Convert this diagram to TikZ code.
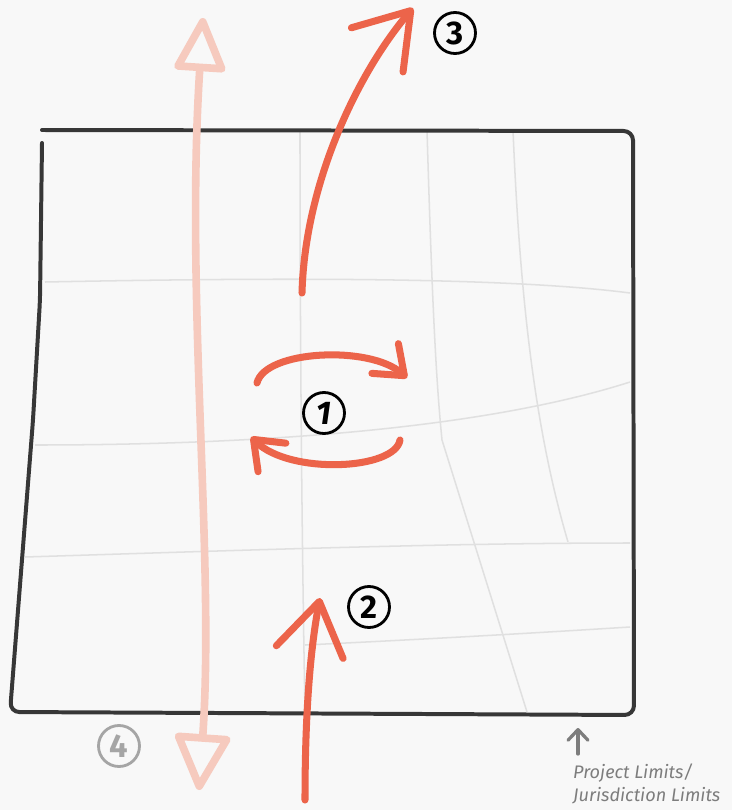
\documentclass[tikz,border=0pt]{standalone}
\usepackage{fontspec}
\setsansfont{Fira Sans}
\usepackage{tikz}
\usetikzlibrary{arrows.meta}

\definecolor{arrowred}{RGB}{236,100,74}
\definecolor{arrowpink}{RGB}{246,202,190}
\definecolor{framegray}{RGB}{55,55,55}
\definecolor{gridgray}{RGB}{224,224,224}
\definecolor{paper}{RGB}{248,248,248}
\definecolor{notegray}{RGB}{125,125,125}
\definecolor{numgray}{RGB}{165,165,165}

\begin{document}
\begin{tikzpicture}[
  x=0.03cm, y=-0.03cm,
  font=\sffamily,
  grid/.style={draw=gridgray, line width=1.3pt},
  frame/.style={draw=framegray, line width=3.4pt, line cap=round, line join=round, rounded corners=8pt},
  redarr/.style={draw=arrowred, line width=6pt, line cap=round,
    -{Straight Barb[round, length=44pt, width=58pt]}},
  turnarr/.style={draw=arrowred, line width=6pt, line cap=round,
    -{Straight Barb[round, length=22pt, width=34pt]}},
  pinkarr/.style={draw=arrowpink, line width=6.5pt, line cap=round,
    {Triangle[open, round, length=50pt, width=46pt]}-{Triangle[open, round, length=52pt, width=50pt]}},
  notearr/.style={draw=notegray, line width=2.8pt, line cap=round,
    -{Straight Barb[round, length=9pt, width=17pt]}},
  num/.style={circle, draw, line width=2.4pt, minimum size=35pt, inner sep=0pt,
    font=\sffamily\bfseries\fontsize{28}{28}\selectfont},
  note/.style={text=notegray, align=left, inner sep=0pt,
    font=\sffamily\itshape\fontsize{15.5}{19.5}\selectfont}
]
% paper
\fill[paper] (0,0) rectangle (732,810);
\useasboundingbox (0,0) rectangle (732,810);

% street grid
\draw[grid] (45,282) .. controls (250,278) and (500,276) .. (630,293);
\draw[grid] (35,445) .. controls (250,445) and (480,430) .. (630,382);
\draw[grid] (25,557) .. controls (250,550) and (450,543) .. (630,543);
\draw[grid] (305,645) .. controls (450,638) and (550,632) .. (630,627);
\draw[grid] (300,130) .. controls (300,400) and (303,600) .. (305,712);
\draw[grid] (427,130) .. controls (432,300) and (436,380) .. (442,440) -- (527,712);
\draw[grid] (513,130) .. controls (520,300) and (535,430) .. (568,542);

% project limits
\draw[frame] (42,130) -- (633,131) -- (634,715) -- (10,712)
  -- (33,420) -- (40,300) -- (42,143);

% through traffic (4)
\coordinate (p4t) at (203,18);
\coordinate (p4b) at (199,790);
\draw[pinkarr] (p4t) .. controls (185,300) and (215,560) .. (p4b);

% internal trips (1)
\coordinate (r1s) at (257,383);
\coordinate (r1t) at (407,378);
\coordinate (r2s) at (400,440);
\coordinate (r2t) at (251,437);
\draw[turnarr] (r1s) .. controls (265,350) and (370,345) .. (r1t);
\draw[turnarr] (r2s) .. controls (395,470) and (290,475) .. (r2t);

% inbound (2) and outbound (3)
\coordinate (a2s) at (305,800);
\coordinate (a2t) at (320,598);
\coordinate (a3s) at (302,293);
\coordinate (a3t) at (413,8);
\draw[redarr] (a2s) .. controls (305,700) and (312,640) .. (a2t);
\draw[redarr] (a3s) .. controls (305,180) and (360,70) .. (a3t);

% numbers
\node[num] (n1) at (324,413) {\itshape 1};
\node[num] (n2) at (369,607) {2};
\node[num] (n3) at (455,33) {3};
\node[num, draw=numgray, text=numgray] (n4) at (119,746) {4};

% legend
\node[note, anchor=north west] (lim) at (573,764) {Project Limits/\\Jurisdiction Limits};
\coordinate (limarr) at (578,728);
\draw[notearr] (lim.north west -| limarr) ++(0,-10) coordinate (limfoot) (limfoot) -- (limarr);
\end{tikzpicture}
\end{document}
